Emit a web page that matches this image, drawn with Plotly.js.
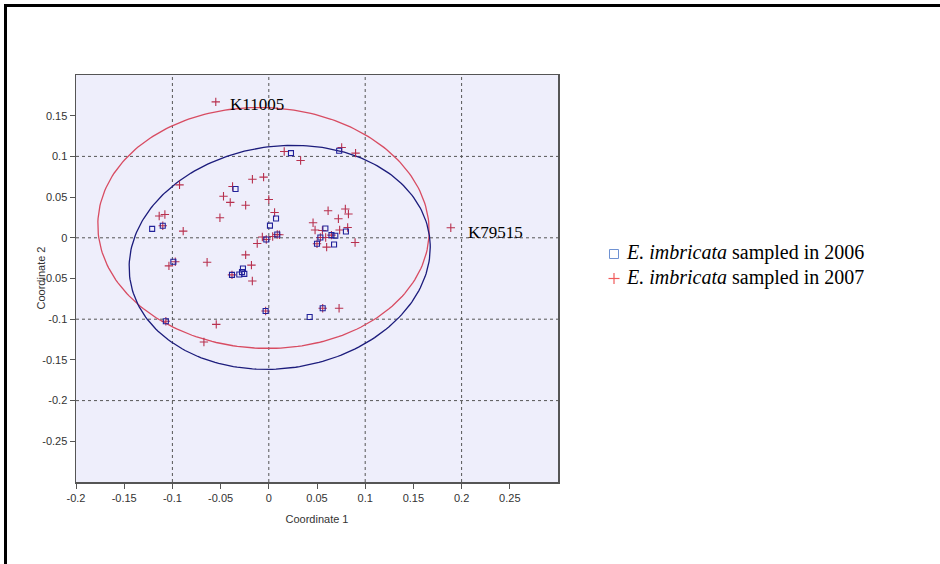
<!DOCTYPE html>
<html>
<head>
<meta charset="utf-8">
<script src="https://cdn.plot.ly/plotly-3.0.1.min.js"></script>
<style>
  html, body { margin: 0; padding: 0; background: #ffffff; }
  #wrap { position: relative; width: 940px; height: 564px; overflow: hidden; }
  #chart { position: absolute; left: 0; top: 0; width: 940px; height: 564px; }
  #frame { position: absolute; left: 4px; top: 4px; width: 960px; height: 600px;
           border-left: 3px solid #000; border-top: 3px solid #000; pointer-events: none; }
</style>
</head>
<body>
<div id="wrap"><div id="chart"></div><div id="frame"></div></div>
<script>
// ---- Data: E. imbricata sampled in 2006 (open squares) ----
const x2006 = [0.023, 0.073, -0.0345, -0.121, -0.110, 0.0075, 0.0012, -0.0026, 0.0088,
  0.0587, 0.080, 0.0535, 0.065, 0.069, 0.050, 0.0677, -0.099, -0.0382, -0.0306,
  -0.0268, -0.0278, -0.0254, -0.0033, 0.0424, -0.1068, 0.0559];
const y2006 = [0.104, 0.107, 0.060, 0.011, 0.0148, 0.0238, 0.015, -0.002, 0.004,
  0.0115, 0.0078, 0.0004, 0.0033, 0.0025, -0.0074, -0.0082, -0.0295, -0.0456, -0.045,
  -0.0378, -0.0422, -0.0443, -0.090, -0.0973, -0.1026, -0.0866];

// ---- Data: E. imbricata sampled in 2007 (crosses) ----
const x2007 = [-0.055, 0.016, 0.033, 0.0756, 0.090, -0.0054, -0.017, -0.0926, -0.0376,
  -0.047, -0.040, -0.024, -0.0507, -0.1137, -0.1078, -0.110, -0.0888, 0.0, 0.006,
  -0.0067, -0.0026, 0.004, 0.0088, 0.011, -0.012, -0.024, -0.018, -0.064, -0.1036,
  -0.097, 0.0615, 0.0794, 0.0826, 0.0722, 0.0459, 0.048, 0.0556, 0.0735, 0.0818,
  0.0535, 0.059, 0.065, 0.050, 0.060, 0.0895, 0.1888, -0.0382, -0.0171, -0.0033,
  -0.1068, -0.0545, -0.0673, 0.0559, 0.0729];
const y2007 = [0.167, 0.106, 0.095, 0.111, 0.104, 0.0745, 0.072, 0.065, 0.063,
  0.051, 0.0435, 0.040, 0.0246, 0.0267, 0.0287, 0.0148, 0.0082, 0.047, 0.031,
  0.0009, -0.002, 0.0016, 0.004, 0.0037, -0.007, -0.021, -0.0336, -0.030, -0.0345,
  -0.0295, 0.0333, 0.0353, 0.0292, 0.0234, 0.0185, 0.0095, 0.009, 0.0095, 0.0127,
  0.0004, 0.0004, 0.0033, -0.0074, -0.0115, -0.0058, 0.0123, -0.0456, -0.053, -0.090,
  -0.1026, -0.1063, -0.128, -0.0866, -0.0866];

// ---- Labelled samples ----
const labelNames = ["K11005", "K79515"];
const labelX = [-0.0428, 0.2048];
const labelY = [0.1638, 0.0062];

// ---- Ellipses: centre and axis vectors (data units) ----
const ellipse2007 = { cx: -0.0055, cy: 0.0121, ax: 0.17180, bx: 0.004764, ay: -0.007791, by: 0.14776 };
const ellipse2006 = { cx: 0.0113, cy: -0.0240, ax: 0.1553, bx: -0.01657, ay: 0.0268, by: 0.1350 };

// ---- Axes ----
const xRange = [-0.2, 0.3];
const yRange = [-0.3, 0.2];
const xTickVals = [-0.2, -0.15, -0.1, -0.05, 0, 0.05, 0.1, 0.15, 0.2, 0.25];
const xTickText = ["-0.2", "-0.15", "-0.1", "-0.05", "0", "0.05", "0.1", "0.15", "0.2", "0.25"];
const yTickVals = [0.15, 0.1, 0.05, 0, -0.05, -0.1, -0.15, -0.2, -0.25];
const yTickText = ["0.15", "0.1", "0.05", "0", "-0.05", "-0.1", "-0.15", "-0.2", "-0.25"];
const xGrid = [-0.1, 0, 0.1, 0.2];
const yGrid = [0.1, 0, -0.1, -0.2];

const legendText = ["<i>E. imbricata</i> sampled in 2006", "<i>E. imbricata</i> sampled in 2007"];

function ellipsePts(e) {
  const xs = [], ys = [];
  const n = 240;
  for (let i = 0; i <= n; i++) {
    const t = 2 * Math.PI * i / n;
    xs.push(e.cx + e.ax * Math.cos(t) + e.bx * Math.sin(t));
    ys.push(e.cy + e.ay * Math.cos(t) + e.by * Math.sin(t));
  }
  return { x: xs, y: ys };
}

const e07 = ellipsePts(ellipse2007);
const e06 = ellipsePts(ellipse2006);

const traces = [
  { type: 'scatter', mode: 'lines', x: e07.x, y: e07.y, line: { color: '#d84c62', width: 1.3 },
    hoverinfo: 'skip', showlegend: false },
  { type: 'scatter', mode: 'lines', x: e06.x, y: e06.y, line: { color: '#1c1c7c', width: 1.3 },
    hoverinfo: 'skip', showlegend: false },
  { type: 'scatter', mode: 'markers', x: x2007, y: y2007, name: '2007', showlegend: false,
    marker: { symbol: 'cross-thin-open', size: 6, color: '#b8304e', line: { color: '#b8304e', width: 1.1 } } },
  { type: 'scatter', mode: 'markers', x: x2006, y: y2006, name: '2006', showlegend: false,
    marker: { symbol: 'square-open', size: 5, color: '#22229a', line: { color: '#22229a', width: 1.1 } } }
];

// pixel helpers for plot layout (plot area 76..558 x 75..482)
const L = 76, R = 382, T = 75, B = 82, W = 940, H = 564;
const pw = W - L - R, ph = H - T - B;
function px2paperX(px) { return (px - L) / pw; }
function px2paperY(py) { return (H - B - py) / ph; }

const shapes = [];
xGrid.forEach(g => shapes.push({ type: 'line', xref: 'x', yref: 'y', x0: g, x1: g, y0: yRange[0], y1: yRange[1],
  line: { color: '#555', width: 1, dash: 'dot' }, layer: 'below' }));
yGrid.forEach(g => shapes.push({ type: 'line', xref: 'x', yref: 'y', x0: xRange[0], x1: xRange[1], y0: g, y1: g,
  line: { color: '#555', width: 1, dash: 'dot' }, layer: 'below' }));

// legend symbols
shapes.push({ type: 'rect', xref: 'paper', yref: 'paper',
  x0: px2paperX(609.5), x1: px2paperX(618.5), y0: px2paperY(258.5), y1: px2paperY(249.5),
  line: { color: '#6f92d2', width: 1 }, fillcolor: 'rgba(0,0,0,0)' });
shapes.push({ type: 'line', xref: 'paper', yref: 'paper',
  x0: px2paperX(608.5), x1: px2paperX(619.5), y0: px2paperY(278.5), y1: px2paperY(278.5),
  line: { color: '#f05a5a', width: 1.2 } });
shapes.push({ type: 'line', xref: 'paper', yref: 'paper',
  x0: px2paperX(614), x1: px2paperX(614), y0: px2paperY(273), y1: px2paperY(284),
  line: { color: '#f05a5a', width: 1.2 } });

const annotations = [];
labelNames.forEach((nm, i) => annotations.push({
  x: labelX[i], y: labelY[i], xref: 'x', yref: 'y', text: nm, showarrow: false,
  xanchor: 'left', yanchor: 'middle', font: { family: 'Liberation Serif', size: 17, color: '#000' }
}));
const legendY = [253, 277];
legendText.forEach((t, i) => annotations.push({
  x: px2paperX(624), y: px2paperY(legendY[i]), xref: 'paper', yref: 'paper', text: t,
  showarrow: false, xanchor: 'left', yanchor: 'middle',
  font: { family: 'Liberation Serif', size: 20, color: '#000' }
}));
// y-axis title
annotations.push({
  x: px2paperX(40), y: 0.5, xref: 'paper', yref: 'paper', text: 'Coordinate 2', textangle: -90,
  showarrow: false, xanchor: 'center', yanchor: 'middle',
  font: { family: 'Liberation Sans', size: 11, color: '#333' }
});

const axisCommon = {
  showgrid: false, zeroline: false, showline: true, mirror: true,
  linecolor: '#555', linewidth: 1.5, ticks: 'outside', ticklen: 5, tickcolor: '#555', tickwidth: 1,
  tickfont: { family: 'Liberation Sans', size: 11, color: '#333' }, automargin: false
};

const layout = {
  width: W, height: H,
  margin: { l: L, r: R, t: T, b: B },
  paper_bgcolor: '#ffffff', plot_bgcolor: '#eeeefb',
  showlegend: false,
  xaxis: Object.assign({}, axisCommon, {
    range: xRange, tickmode: 'array', tickvals: xTickVals, ticktext: xTickText,
    title: { text: 'Coordinate 1', font: { family: 'Liberation Sans', size: 11, color: '#333' }, standoff: 12 }
  }),
  yaxis: Object.assign({}, axisCommon, {
    range: yRange, tickmode: 'array', tickvals: yTickVals, ticktext: yTickText
  }),
  shapes: shapes,
  annotations: annotations
};

Plotly.newPlot('chart', traces, layout, { staticPlot: true, displayModeBar: false });
</script>
</body>
</html>
